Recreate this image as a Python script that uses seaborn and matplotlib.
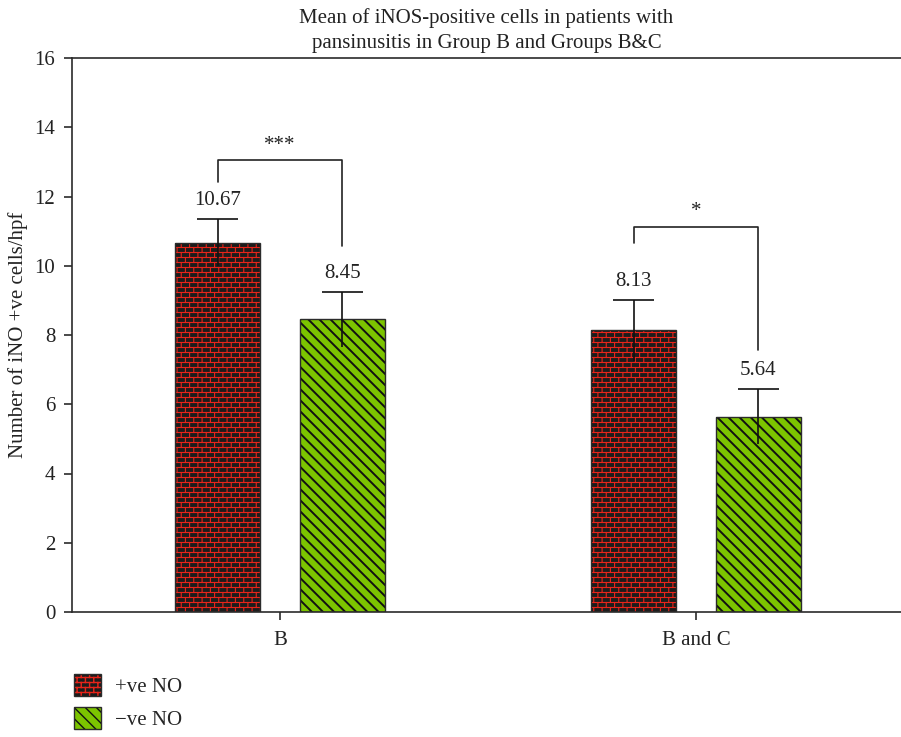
import warnings

import numpy as np
import pandas as pd
import matplotlib
matplotlib.use("Agg")
import matplotlib as mpl
import matplotlib.pyplot as plt
import matplotlib.hatch as mhatch
from matplotlib.patches import Patch, Rectangle
from matplotlib.legend_handler import HandlerTuple
import seaborn as sns

warnings.filterwarnings("ignore", category=mpl.MatplotlibDeprecationWarning)

# ---- data ----
groups = ["B", "B and C"]
series = ["+ve NO", "\u2212ve NO"]
pos_means = [10.67, 8.13]
neg_means = [8.45, 5.64]
pos_errs = [0.68, 0.88]
neg_errs = [0.79, 0.80]
significance = ["***", "*"]
bracket_tops = [13.05, 11.13]
bracket_left_ends = [12.42, 10.67]
bracket_right_ends = [10.57, 7.57]
y_ticks = [0, 2, 4, 6, 8, 10, 12, 14, 16]


# ---- running-bond brick hatch ('b') ----
class BrickHatch(mhatch.HatchPatternBase):
    def __init__(self, hatch, density):
        n = hatch.count("b")
        self.rows = 20 * n
        self.cols = 12 * n
        if n:
            self.num_vertices = 2 * self.rows + 2 * (self.rows + 1) * self.cols
        else:
            self.num_vertices = 0

    def set_vertices_and_codes(self, vertices, codes):
        rows, cols = self.rows, self.cols
        segs = []
        for k in range(rows):
            y = (k + 0.5) / rows
            segs.append(((0.0, y), (1.0, y)))
        for k in range(rows + 1):
            y0, y1 = (k - 0.5) / rows, (k + 0.5) / rows
            shift = 0.25 if k % 2 == 0 else 0.75
            for j in range(cols):
                x = (j + shift) / cols
                segs.append(((x, y0), (x, y1)))
        segs = np.array(segs, dtype=float)
        vertices[0::2] = segs[:, 0]
        vertices[1::2] = segs[:, 1]
        codes[0::2] = mpl.path.Path.MOVETO
        codes[1::2] = mpl.path.Path.LINETO


mhatch._hatch_types.append(BrickHatch)

# ---- styling ----
FS = 15
sns.set_theme(style="ticks")
plt.rcParams["font.family"] = ["Liberation Serif", "DejaVu Serif"]
plt.rcParams["font.size"] = FS
plt.rcParams["axes.unicode_minus"] = True

dark = "#2b2b2b"
text_col = "#222222"
brick_face = "#1c1c1c"
brick_mortar = "#e8241a"
lime = "#7cc400"

df = pd.DataFrame({
    "group": groups * 2,
    "series": [series[0]] * 2 + [series[1]] * 2,
    "mean": pos_means + neg_means,
})

fig = plt.figure(figsize=(9.01, 7.37), dpi=100)
ax = fig.add_axes([72 / 901, 1 - 612 / 737, 1 - 72 / 901, (612 - 58) / 737])

sns.barplot(data=df, x="group", y="mean", hue="series", order=groups,
            hue_order=series, width=0.6, gap=0.32, errorbar=None,
            legend=False, ax=ax)

styles = [
    dict(face=brick_face, hatch="b", hatch_color=brick_mortar, hlw=0.8),
    dict(face=lime, hatch="\\\\\\", hatch_color="#111111", hlw=1.4),
]

centers = [[], []]
for si, container in enumerate(ax.containers[:2]):
    st = styles[si]
    for bar in container:
        bar.set_facecolor(st["face"])
        bar.set_edgecolor(st["hatch_color"])
        bar.set_hatch(st["hatch"])
        bar.set_linewidth(0)
        if hasattr(bar, "set_hatch_linewidth"):
            bar.set_hatch_linewidth(st["hlw"])
        ax.add_patch(Rectangle((bar.get_x(), bar.get_y()), bar.get_width(),
                               bar.get_height(), fill=False, edgecolor=dark,
                               linewidth=1.0, zorder=bar.get_zorder() + 0.1))
        centers[si].append(bar.get_x() + bar.get_width() / 2)

# error bars (cap on top only) and value labels
cap_half = 0.05
for si, (means, errs) in enumerate([(pos_means, pos_errs), (neg_means, neg_errs)]):
    for xc, m, e in zip(centers[si], means, errs):
        ax.vlines(xc, m - e, m + e, color="#111111", lw=1.2, zorder=5)
        ax.hlines(m + e, xc - cap_half, xc + cap_half, color="#111111", lw=1.2, zorder=5)
        ax.annotate(f"{m:.2f}", (xc, m + e), xytext=(0, 6.5), textcoords="offset points",
                    ha="center", va="bottom", fontsize=FS, color=text_col)

# significance brackets
for i in range(len(groups)):
    xl, xr = centers[0][i], centers[1][i]
    top = bracket_tops[i]
    ax.plot([xl, xl, xr, xr], [bracket_left_ends[i], top, top, bracket_right_ends[i]],
            color=text_col, lw=1.2, zorder=5)
    ax.annotate(significance[i], ((xl + xr) / 2, top), xytext=(0, 4),
                textcoords="offset points", ha="center", va="bottom",
                fontsize=FS, color=text_col)

# axes
ax.set_xlim(-0.5, 1.493)
ax.set_ylim(0, 16)
ax.set_yticks(y_ticks)
ax.set_xlabel("")
ax.set_ylabel("Number of iNO +ve cells/hpf", fontsize=FS, labelpad=5, color=text_col)
ax.set_title("Mean of iNOS-positive cells in patients with\npansinusitis in Group B and Groups B&C",
             fontsize=FS, pad=7, linespacing=1.45, color=text_col)
for side in ["left", "top", "bottom"]:
    ax.spines[side].set_color(dark)
    ax.spines[side].set_linewidth(1.2)
ax.spines["right"].set_visible(False)
ax.tick_params(axis="both", direction="out", length=6, width=1.2, color=dark,
               labelsize=FS, labelcolor=text_col, pad=6)
ax.tick_params(axis="x", pad=8)

# legend
handles = []
for st in styles:
    hp = Patch(facecolor=st["face"], edgecolor=st["hatch_color"], hatch=st["hatch"], linewidth=0)
    if hasattr(hp, "set_hatch_linewidth"):
        hp.set_hatch_linewidth(st["hlw"])
    op = Patch(fill=False, edgecolor=dark, linewidth=1.0)
    handles.append((hp, op))
fig.legend(handles, series, loc="upper left", bbox_to_anchor=(74 / 901, 1 - 674 / 737),
           frameon=False, borderpad=0, borderaxespad=0, handlelength=1.3,
           handleheight=1.25, labelspacing=0.5, handletextpad=0.65, fontsize=FS,
           handler_map={tuple: HandlerTuple(ndivide=1)})

fig.savefig("out.png", dpi=100)
